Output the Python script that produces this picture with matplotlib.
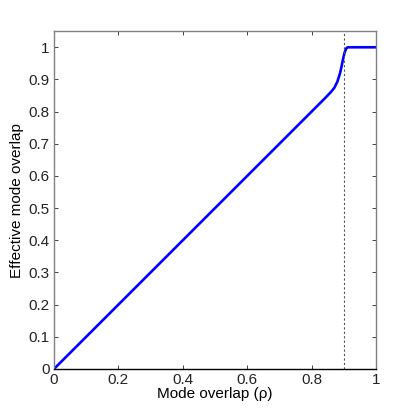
import matplotlib
matplotlib.use('Agg')
import matplotlib.pyplot as plt
from matplotlib.ticker import FuncFormatter

# curve
rho = [0.0, 0.5, 0.8, 0.84, 0.86, 0.87, 0.88, 0.888, 0.893, 0.898, 0.903, 0.907, 0.91, 0.913, 1.0]
eff = [0.0, 0.5, 0.8, 0.84, 0.861, 0.873, 0.893, 0.918, 0.94, 0.965, 0.985, 0.995, 0.999, 1.0, 1.0]
threshold = 0.9

x_ticks = [0, 0.2, 0.4, 0.6, 0.8, 1]
y_ticks = [0, 0.1, 0.2, 0.3, 0.4, 0.5, 0.6, 0.7, 0.8, 0.9, 1]

plt.rcParams['font.family'] = ['Liberation Sans', 'DejaVu Sans']

fig = plt.figure(figsize=(4.15, 4.16), dpi=100)
ax = fig.add_axes([0.130, 0.113, 0.776, 0.812])

ax.plot(rho, eff, color='#0000ff', linewidth=1.9, solid_capstyle='butt')
ax.axvline(threshold, color='#555555', linestyle=(0, (2, 2)), linewidth=0.8)

ax.set_xlim(0, 1)
ax.set_ylim(0, 1.05)
ax.set_xticks(x_ticks)
ax.set_yticks(y_ticks)
fmt = FuncFormatter(lambda v, p: '%g' % round(v, 2))
ax.xaxis.set_major_formatter(fmt)
ax.yaxis.set_major_formatter(fmt)
ax.tick_params(direction='in', length=3, width=0.6, top=True, right=True,
               labelsize=11, colors='#222222', pad=3)
for side in ['left', 'top', 'right']:
    ax.spines[side].set_color('#808080')
    ax.spines[side].set_linewidth(1.0)
ax.spines['bottom'].set_color('#000000')
ax.spines['bottom'].set_linewidth(1.0)

ax.set_xlabel('Mode overlap (\u03c1)', fontsize=11, labelpad=0)
ax.set_ylabel('Effective mode overlap', fontsize=11, labelpad=3)

fig.savefig('out.png', dpi=100)
